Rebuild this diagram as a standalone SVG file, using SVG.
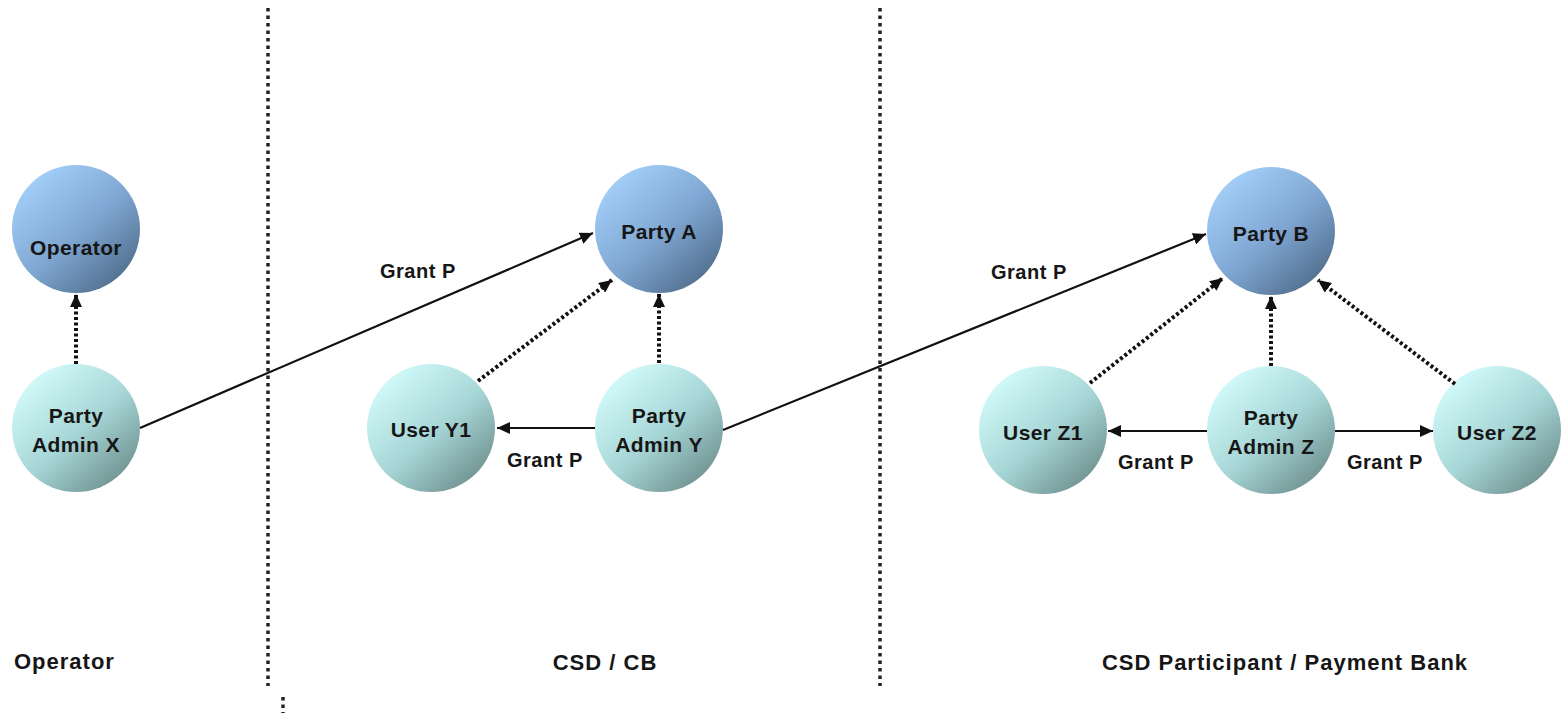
<svg xmlns="http://www.w3.org/2000/svg" width="1562" height="713" viewBox="0 0 1562 713">
<defs>
<linearGradient id="gBlue" x1="0.15" y1="0.1" x2="0.9" y2="0.95">
<stop offset="0" stop-color="#a3cff9"/>
<stop offset="0.5" stop-color="#7fa6d2"/>
<stop offset="1" stop-color="#4c6986"/>
</linearGradient>
<linearGradient id="gCyan" x1="0.15" y1="0.1" x2="0.9" y2="0.95">
<stop offset="0" stop-color="#d2fafa"/>
<stop offset="0.5" stop-color="#a7d6d6"/>
<stop offset="1" stop-color="#6a8a8a"/>
</linearGradient>
<marker id="arr" markerUnits="userSpaceOnUse" markerWidth="14" markerHeight="12" refX="13" refY="6" orient="auto">
<path d="M0,0 L13,6 L0,12 z" fill="#111"/>
</marker>
</defs>
<style>
.blue{fill:url(#gBlue);}
.cyan{fill:url(#gCyan);}
.t{font-family:"Liberation Sans",Arial,sans-serif;font-weight:bold;font-size:21px;letter-spacing:0.4px;fill:#161616;text-anchor:middle;}
.lbl{font-family:"Liberation Sans",Arial,sans-serif;font-weight:bold;font-size:20px;letter-spacing:0.5px;fill:#161616;}
.big{font-family:"Liberation Sans",Arial,sans-serif;font-weight:bold;font-size:22px;letter-spacing:1px;fill:#161616;}
.sep{stroke:#222;stroke-width:3.5;stroke-dasharray:3.5 4;fill:none;}
.solid{stroke:#111;stroke-width:2.2;fill:none;marker-end:url(#arr);}
.dot{stroke:#111;stroke-width:4;stroke-dasharray:3 2.5;fill:none;marker-end:url(#arr);}
</style>
<rect width="1562" height="713" fill="#fff"/>

<g id="separators">
<line class="sep" x1="268" y1="8" x2="268" y2="686"/>
<line class="sep" x1="283" y1="697" x2="283" y2="713"/>
<line class="sep" x1="880" y1="8" x2="880" y2="686"/>
</g>

<g id="node-operator"><circle class="blue" cx="76" cy="229" r="64"/><text class="t" x="76" y="255">Operator</text></g>
<g id="node-admin-x"><circle class="cyan" cx="76" cy="428" r="64"/><text class="t" x="76" y="423">Party</text><text class="t" x="76" y="452">Admin X</text></g>

<g id="node-party-a"><circle class="blue" cx="659" cy="229" r="64"/><text class="t" x="659" y="239">Party A</text></g>
<g id="node-user-y1"><circle class="cyan" cx="431" cy="428" r="64"/><text class="t" x="431" y="437">User Y1</text></g>
<g id="node-admin-y"><circle class="cyan" cx="659" cy="428" r="64"/><text class="t" x="659" y="423">Party</text><text class="t" x="659" y="452">Admin Y</text></g>

<g id="node-party-b"><circle class="blue" cx="1271" cy="231" r="64"/><text class="t" x="1271" y="241">Party B</text></g>
<g id="node-user-z1"><circle class="cyan" cx="1043" cy="430" r="64"/><text class="t" x="1043" y="440">User Z1</text></g>
<g id="node-admin-z"><circle class="cyan" cx="1271" cy="430" r="64"/><text class="t" x="1271" y="425">Party</text><text class="t" x="1271" y="454">Admin Z</text></g>
<g id="node-user-z2"><circle class="cyan" cx="1497" cy="430" r="64"/><text class="t" x="1497" y="440">User Z2</text></g>

<g id="connectors">
<line class="dot" x1="76" y1="364" x2="76" y2="294"/>
<line class="solid" x1="140" y1="428" x2="593" y2="233"/>
<line class="dot" x1="478" y1="381" x2="612" y2="280"/>
<line class="dot" x1="659" y1="363" x2="659" y2="294"/>
<line class="solid" x1="595" y1="428" x2="497" y2="428"/>
<line class="solid" x1="723" y1="430" x2="1206" y2="234"/>
<line class="dot" x1="1090" y1="383" x2="1223" y2="278"/>
<line class="dot" x1="1271" y1="366" x2="1271" y2="296"/>
<line class="dot" x1="1455" y1="384" x2="1318" y2="280"/>
<line class="solid" x1="1207" y1="431" x2="1108" y2="431"/>
<line class="solid" x1="1335" y1="431" x2="1433" y2="431"/>
</g>

<g id="labels">
<text class="lbl" x="380" y="278">Grant P</text>
<text class="lbl" x="507" y="467">Grant P</text>
<text class="lbl" x="991" y="279">Grant P</text>
<text class="lbl" x="1118" y="469">Grant P</text>
<text class="lbl" x="1347" y="469">Grant P</text>
<text class="big" x="14" y="669">Operator</text>
<text class="big" x="605" y="670" text-anchor="middle">CSD / CB</text>
<text class="big" x="1285" y="670" text-anchor="middle">CSD Participant / Payment Bank</text>
</g>
</svg>
